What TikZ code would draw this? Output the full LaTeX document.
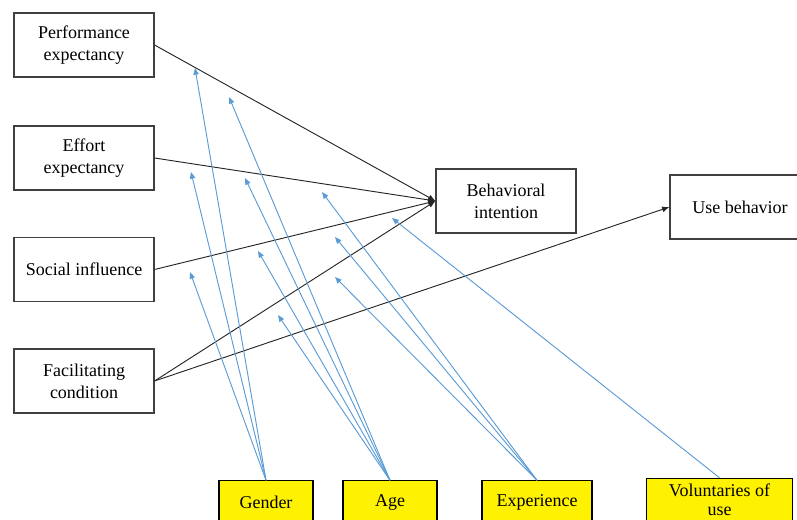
\documentclass[tikz,border=0pt]{standalone}
\usepackage{fontspec}
\setmainfont{Liberation Serif}
\usetikzlibrary{arrows.meta}

\definecolor{linkblue}{RGB}{91,155,213}
\definecolor{boxgray}{RGB}{64,64,64}

\tikzset{
  factor/.style={draw=boxgray, line width=0.8pt, minimum width=105pt, minimum height=48pt,
    align=center, inner sep=1pt, font=\fontsize{13.5}{16.3}\selectfont},
  moderator/.style={draw=black, line width=0.8pt, fill=yellow, minimum height=32.5pt,
    align=center, inner sep=1pt, font=\fontsize{13.5}{16.3}\selectfont},
  mainlink/.style={draw=black!85, line width=0.7pt, -{Latex[length=5.5pt,width=4.5pt]}},
  modlink/.style={draw=linkblue, line width=0.7pt, -{Triangle[length=5pt,width=4pt]}}
}

\begin{document}
\begin{tikzpicture}[x=0.75pt, y=-0.75pt]
\useasboundingbox (0,0) rectangle (797,520);
\clip (0,0) rectangle (797,520);

\node[factor] (pe) at (84,45) {Performance\\expectancy};
\node[factor] (ee) at (84,158) {Effort\\expectancy};
\node[factor] (si) at (84,269.5) {Social influence};
\node[factor] (fc) at (84,381) {Facilitating\\condition};

\node[factor] (bi) at (506,201) {Behavioral\\intention};
\node[factor] (ub) at (740,207) {Use behavior};

\node[moderator, minimum width=70.5pt] (gender) at (266,502.5) {Gender};
\node[moderator, minimum width=70.5pt] (age) at (390,502.5) {Age};
\node[moderator, minimum width=82.5pt] (exp) at (537,502.5) {Experience};
\node[moderator, minimum width=110pt, font=\fontsize{13.5}{14.5}\selectfont] (vol) at (719.5,500) {Voluntaries of\\use};

\draw[mainlink] (pe.east) -- (bi.west);
\draw[mainlink] (ee.east) -- (bi.west);
\draw[mainlink] (si.east) -- (bi.west);
\draw[mainlink] (fc.east) -- (bi.west);
\draw[mainlink] (fc.east) -- (ub.west);

\coordinate (g1) at (195,68);
\coordinate (g2) at (191,172);
\coordinate (g3) at (190,272);
\coordinate (a1) at (229,97);
\coordinate (a2) at (245,178);
\coordinate (a3) at (258,251);
\coordinate (a4) at (278,315);
\coordinate (e1) at (322,192);
\coordinate (e2) at (335,237);
\coordinate (e3) at (335,277);
\coordinate (v1) at (392,218);

\foreach \t in {g1,g2,g3}
  \draw[modlink] (gender.north) -- (\t);
\foreach \t in {a1,a2,a3,a4}
  \draw[modlink] (age.north) -- (\t);
\foreach \t in {e1,e2,e3}
  \draw[modlink] (exp.north) -- (\t);
\draw[modlink] (vol.north) -- (v1);

\end{tikzpicture}
\end{document}
